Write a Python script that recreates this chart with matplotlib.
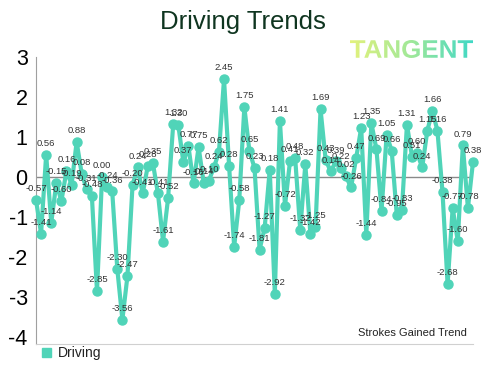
import numpy as np
import matplotlib.pyplot as plt
from matplotlib.textpath import TextPath
from matplotlib.font_manager import FontProperties
from matplotlib.patches import PathPatch
from matplotlib.transforms import Affine2D
from matplotlib.colors import LinearSegmentedColormap

# strokes gained, driving, round by round
driving = [-0.57, -1.41, 0.56, -1.14, -0.15, -0.60, 0.16, -0.19, 0.88, 0.08,
           -0.31, -0.48, -2.85, 0.00, -0.24, -0.36, -2.30, -3.56, -2.47, -0.20,
           0.24, -0.41, 0.28, 0.35, -0.41, -1.61, -0.52, 1.32, 1.30, 0.37,
           0.77, -0.16, 0.75, -0.14, -0.10, 0.24, 0.62, 2.45, 0.28, -1.74,
           -0.58, 1.75, 0.65, 0.23, -1.81, -1.27, 0.18, -2.92, 1.41, -0.72,
           0.41, 0.48, -1.32, 0.32, -1.42, -1.25, 1.69, 0.43, 0.14, 0.39,
           0.22, 0.02, -0.26, 0.47, 1.23, -1.44, 1.35, 0.69, -0.84, 1.05,
           0.66, -0.95, -0.83, 1.31, 0.51, 0.60, 0.24, 1.15, 1.66, 1.16,
           -0.38, -2.68, -0.77, -1.60, 0.79, -0.78, 0.38]
yticks = [3, 2, 1, 0, -1, -2, -3, -4]

teal = '#50d4b8'
plt.rcParams['font.family'] = ['Liberation Sans', 'DejaVu Sans']
plt.rcParams['axes.unicode_minus'] = False

fig = plt.figure(figsize=(4.86, 3.67), dpi=100)
ax = fig.add_axes([36/486, 1 - 344/367, 437/486, (344 - 57)/367])

x = np.arange(len(driving))
ax.plot(x, driving, color=teal, lw=3.0, marker='o', ms=6.5, clip_on=False,
        solid_joinstyle='round', zorder=3)
for xi, v in zip(x, driving):
    ax.annotate(f'{v:.2f}', (xi, v), xytext=(0, 5), textcoords='offset points',
                ha='center', va='bottom', fontsize=6.8, color='#333333', zorder=4)

ax.axhline(0, color='#8a8a8a', lw=1, zorder=1)
ax.set_xlim(0, len(driving) - 1)
ax.set_ylim(-4.17, 3.0)
ax.set_yticks(yticks)
ax.set_xticks([])
ax.tick_params(axis='y', length=0, labelsize=15.5, pad=6)
for s in ['top', 'right']:
    ax.spines[s].set_visible(False)
ax.spines['left'].set_color('#a0a0a0')
ax.spines['bottom'].set_color('#d0d0d0')

fig.text(0.5, 1 - 22/367, 'Driving Trends', ha='center', va='center',
         fontsize=18.5, color='#0f3520')
fig.text(467/486, 1 - 333/367, 'Strokes Gained Trend', ha='right', va='center',
         fontsize=8, color='#222222')

# legend
fig.patches.append(plt.Rectangle((42/486, 1 - 357/367), 9/486, 9/367,
                                 transform=fig.transFigure, color=teal))
fig.text(58/486, 1 - 353/367, 'Driving', ha='left', va='center',
         fontsize=10, color='#222222')

# gradient logo
over = fig.add_axes([0, 0, 1, 1], zorder=5)
over.set_xlim(0, 486)
over.set_ylim(0, 367)
over.axis('off')
tp = TextPath((0, 0), 'TANGENT', size=10,
              prop=FontProperties(family='Liberation Sans', weight='bold'))
bb = tp.get_extents()
x0, x1, y0, y1 = 350, 473, 367 - 58, 367 - 40
sx = (x1 - x0) / bb.width
sy = (y1 - y0) / bb.height
tr = Affine2D().translate(-bb.x0, -bb.y0).scale(sx, sy).translate(x0, y0)
path = tr.transform_path(tp)
grad = np.linspace(0, 1, 256).reshape(1, -1)
cmap = LinearSegmentedColormap.from_list('tg', ['#e3f27c', '#9fe89a', '#3fd8c6'])
im = over.imshow(grad, cmap=cmap, extent=[x0, x1, y0, y1], aspect='auto')
patch = PathPatch(path, transform=over.transData, facecolor='none', edgecolor='none')
over.add_patch(patch)
im.set_clip_path(patch)

fig.savefig('out.png', dpi=100)
